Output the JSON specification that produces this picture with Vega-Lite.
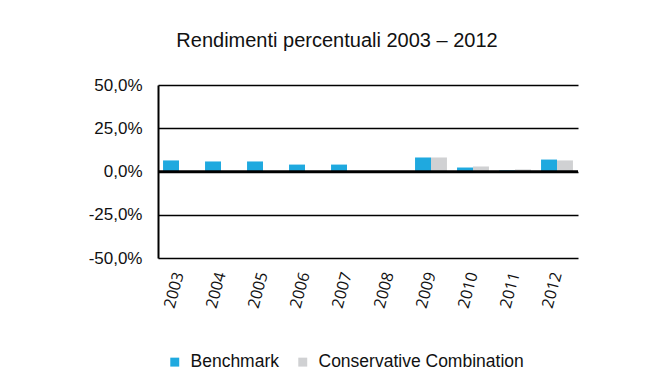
{
  "$schema": "https://vega.github.io/schema/vega-lite/v6.json",
  "autosize": "none",
  "width": 420,
  "height": 173,
  "padding": {"left": 158, "top": 85, "right": 75, "bottom": 125},
  "background": "white",
  "config": {
    "font": "Liberation Sans",
    "view": {"stroke": null}
  },
  "title": {
    "text": "Rendimenti percentuali 2003 – 2012",
    "fontSize": 20,
    "fontWeight": "normal",
    "color": "#111111",
    "anchor": "middle",
    "dx": -31,
    "offset": 25
  },
  "data": {
    "values": [
      {"year": "2003", "series": "Benchmark", "value": 6.4},
      {"year": "2004", "series": "Benchmark", "value": 5.8},
      {"year": "2005", "series": "Benchmark", "value": 5.8},
      {"year": "2006", "series": "Benchmark", "value": 4.0},
      {"year": "2007", "series": "Benchmark", "value": 4.0},
      {"year": "2008", "series": "Benchmark", "value": 0.0},
      {"year": "2009", "series": "Benchmark", "value": 8.1},
      {"year": "2009", "series": "Conservative Combination", "value": 8.1},
      {"year": "2010", "series": "Benchmark", "value": 2.3},
      {"year": "2010", "series": "Conservative Combination", "value": 2.9},
      {"year": "2011", "series": "Benchmark", "value": 0.6},
      {"year": "2011", "series": "Conservative Combination", "value": 1.2},
      {"year": "2012", "series": "Benchmark", "value": 6.9},
      {"year": "2012", "series": "Conservative Combination", "value": 6.4}
    ]
  },
  "layer": [
    {
      "mark": {"type": "bar"},
      "encoding": {
        "x": {
          "field": "year",
          "type": "nominal",
          "scale": {"paddingInner": 0.24, "paddingOuter": 0.12},
          "axis": {
            "title": null,
            "domain": false,
            "ticks": false,
            "labelAngle": -75,
            "labelAlign": "right",
            "labelBaseline": "middle",
            "labelPadding": 14,
            "labelFont": "Open Sans",
            "labelFontSize": 16,
            "labelColor": "#111111"
          }
        },
        "xOffset": {"field": "series", "type": "nominal", "scale": {"domain": ["Benchmark", "Conservative Combination"]}},
        "y": {
          "field": "value",
          "type": "quantitative",
          "scale": {"domain": [-50, 50]},
          "axis": {
            "title": null,
            "values": [-50, -25, 0, 25, 50],
            "labelExpr": "replace(replace(format(datum.value, '.1f'), '.', ','), '\u2212', '-') + '%'",
            "labelFontSize": 17,
            "labelColor": "#111111",
            "labelPadding": 16,
            "ticks": false,
            "domain": true,
            "domainColor": "#000000",
            "domainWidth": 2,
            "grid": true,
            "gridColor": "#000000",
            "gridWidth": 1.3
          }
        },
        "color": {
          "field": "series",
          "type": "nominal",
          "scale": {"domain": ["Benchmark", "Conservative Combination"], "range": ["#1fa9df", "#d0d1d3"]},
          "legend": {
            "title": null,
            "orient": "none",
            "direction": "horizontal",
            "legendX": 8,
            "legendY": 268,
            "symbolType": "square",
            "symbolSize": 80,
            "symbolStrokeWidth": 0,
            "labelFontSize": 17.5,
            "labelLimit": 400,
            "labelColor": "#111111",
            "columnPadding": 14,
            "labelOffset": 7
          }
        }
      }
    },
    {
      "mark": {"type": "rule", "color": "#000000", "strokeWidth": 2.5},
      "data": {"values": [{"zero": 0}]},
      "encoding": {"y": {"field": "zero", "type": "quantitative"}}
    }
  ]
}
